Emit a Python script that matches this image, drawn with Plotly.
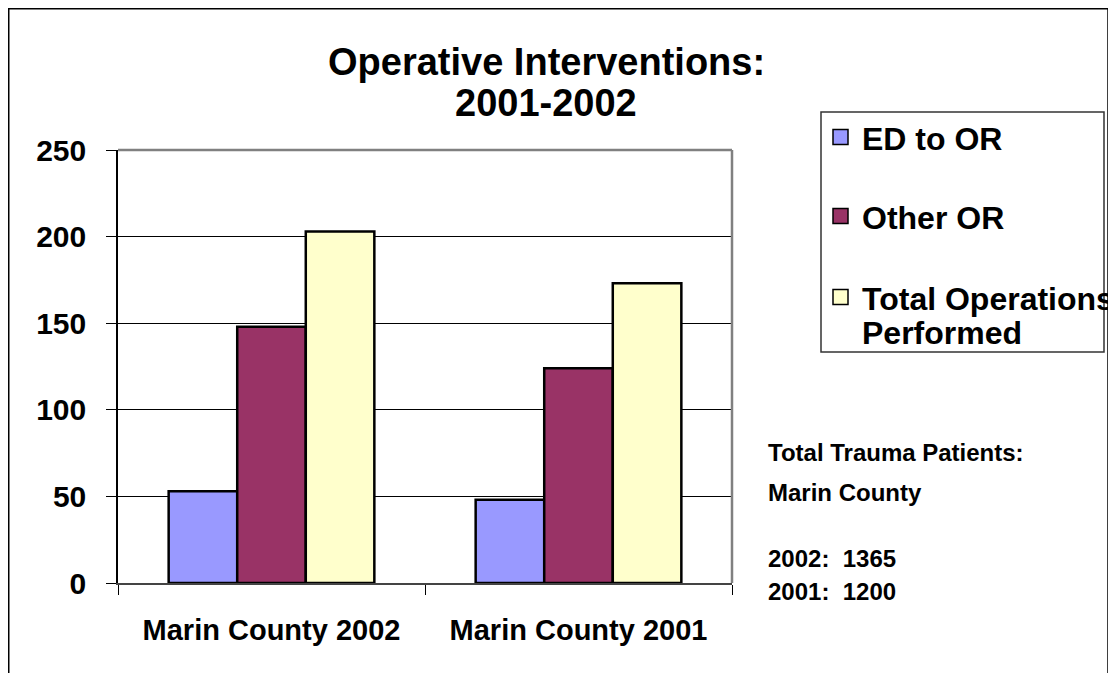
import plotly.graph_objects as go

# data
categories = ["Marin County 2002", "Marin County 2001"]
ed_to_or = [53, 48]
other_or = [148, 124]
total_ops = [203, 173]
series_names = ["ED to OR", "Other OR", "Total Operations<br>Performed"]
series_colors = ["#9999FF", "#993366", "#FFFFCC"]
y_ticks = [0, 50, 100, 150, 200, 250]
trauma_years = ["2002", "2001"]
trauma_totals = [1365, 1200]

FONT = "Liberation Sans, Arial, sans-serif"
W, H = 1116, 673
OFF = 8  # page body margin
# plot area in screen pixels
L, R, T, B = 118, 732, 150, 583


def px_x(p):
    return (p - L) / (R - L)


def px_y(p):
    return (B - p) / (B - T)


fig = go.Figure()
for name, vals, col in zip(series_names, [ed_to_or, other_or, total_ops], series_colors):
    fig.add_trace(go.Bar(
        x=categories, y=vals, name=name,
        marker=dict(color=col, line=dict(color="black", width=2.5)),
    ))

fig.update_layout(
    width=W, height=H,
    margin=dict(l=L - OFF, r=W - (R - OFF), t=T - OFF, b=H - (B - OFF)),
    paper_bgcolor="white", plot_bgcolor="white",
    font=dict(family=FONT, color="black"),
    barmode="group", bargap=0.33, bargroupgap=0,
    showlegend=False,
)

fig.update_xaxes(
    type="category", range=[-0.5, 1.5],
    showline=True, linecolor="#444444", linewidth=1.5,
    ticks="outside", tickson="boundaries", ticklen=10, tickcolor="black",
    tickfont=dict(size=29, family=FONT, weight="bold"),
    ticklabelstandoff=20, showgrid=False,
)
fig.update_yaxes(
    range=[0, 250], tickvals=y_ticks,
    showline=True, linecolor="black", linewidth=1.5,
    ticks="outside", ticklen=10, tickcolor="black",
    tickfont=dict(size=30, family=FONT, weight="bold"),
    ticklabelstandoff=14,
    showgrid=True, gridcolor="black", gridwidth=1, zeroline=False,
)

shapes = [
    # outer frame
    dict(type="rect", xref="paper", yref="paper",
         x0=px_x(8.75), x1=px_x(1108), y0=px_y(720), y1=px_y(8.75),
         line=dict(color="black", width=1.5), layer="below"),
    # plot area border (top and right gray)
    dict(type="line", xref="paper", yref="paper", x0=0, x1=1, y0=1, y1=1,
         line=dict(color="#808080", width=2.5)),
    dict(type="line", xref="paper", yref="paper", x0=1, x1=1, y0=0, y1=1,
         line=dict(color="#808080", width=2.5)),
    # legend box
    dict(type="rect", xref="paper", yref="paper",
         x0=px_x(821), x1=px_x(1104), y0=px_y(352), y1=px_y(112),
         line=dict(color="#333333", width=1.5), fillcolor="white"),
]

annotations = [
    dict(text="<b>Operative Interventions:</b>", x=px_x(546), y=px_y(62)),
    dict(text="<b>2001-2002</b>", x=px_x(546), y=px_y(103)),
]
for a in annotations:
    a.update(xref="paper", yref="paper", showarrow=False, xanchor="center",
             yanchor="middle", font=dict(size=38, family=FONT))

# legend drawn by hand so the text can run past the box like the original
legend_y = [137, 216, 297]
for name, col, sy in zip(series_names, series_colors, legend_y):
    shapes.append(dict(type="rect", xref="paper", yref="paper",
                       x0=px_x(833), x1=px_x(848), y0=px_y(sy + 7.5), y1=px_y(sy - 7.5),
                       fillcolor=col, line=dict(color="black", width=1.5)))
    for k, line in enumerate(name.split("<br>")):
        annotations.append(dict(
            text=f"<b>{line}</b>", x=px_x(860), y=px_y(sy + 2 + 34 * k),
            xref="paper", yref="paper", showarrow=False, xanchor="left", yanchor="middle",
            font=dict(size=32, family=FONT)))

info_lines = ["Total Trauma Patients:", "Marin County"] + \
    [f"{yr}:\u00a0 {tot}" for yr, tot in zip(trauma_years, trauma_totals)]
for line, py in zip(info_lines, [452, 492, 558, 591]):
    annotations.append(dict(
        text=f"<b>{line}</b>", x=px_x(766), y=px_y(py),
        xref="paper", yref="paper", showarrow=False, xanchor="left", yanchor="middle",
        font=dict(size=24, family=FONT)))

fig.update_layout(shapes=shapes, annotations=annotations)

fig.write_html("out.html")
